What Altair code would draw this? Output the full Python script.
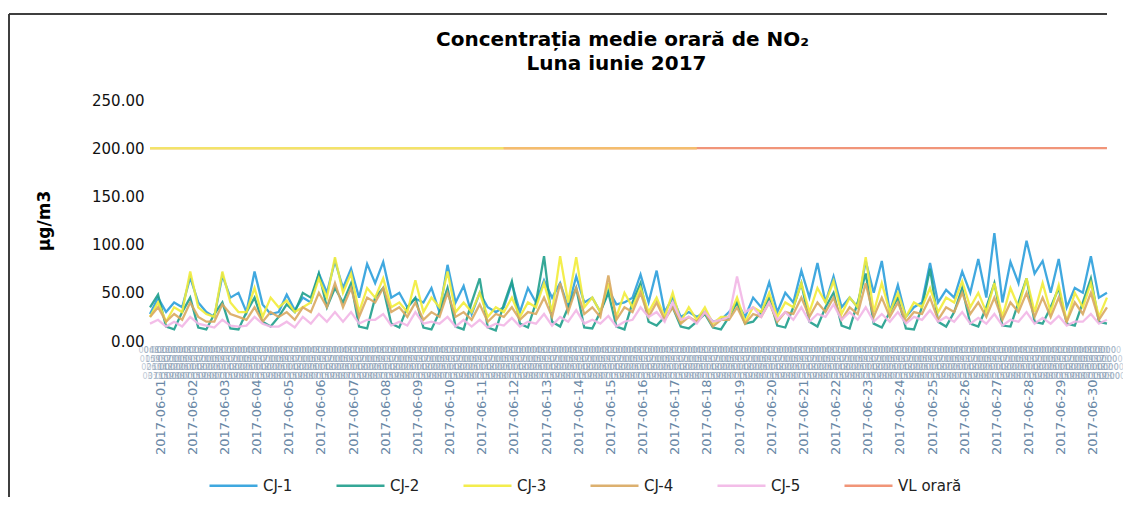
import altair as alt
import pandas as pd

# ---- data (4 readings per day: 00, 06, 12, 18 h) ----
TITLE_LINES = ["Concentrația medie orară de NO₂", "Luna iunie 2017"]
SERIES = ["CJ-1", "CJ-2", "CJ-3", "CJ-4", "CJ-5", "VL orară"]
COLORS = ["#2b9fdc", "#1f9e8c", "#f2ec3a", "#d9a860", "#f2b6e6", "#f08a6a"]
HOURS = [0, 6, 12, 18]
DAYS = list(range(1, 31))

cj1 = [28, 45, 30, 40,  35, 66, 40, 30,  25, 68, 45, 50,  30, 72, 38, 28,  30, 48, 32, 45,
       40, 70, 50, 83,  55, 75, 45, 80,  60, 82, 45, 50,  35, 44, 40, 55,  30, 79, 40, 57,
       28, 50, 35, 30,  35, 60, 30, 55,  40, 63, 45, 60,  35, 67, 40, 45,  30, 53, 38, 40,
       45, 69, 40, 73,  30, 45, 25, 30,  25, 30, 20, 22,  30, 40, 25, 45,  35, 61, 30, 50,
       40, 73, 45, 81,  40, 67, 35, 45,  35, 83, 50, 83,  30, 58, 25, 35,  40, 81, 40, 53,
       45, 72, 50, 85,  45, 112, 40, 82, 60, 104, 70, 83, 50, 85, 35, 55,  50, 88, 45, 50]
cj2 = [35, 48, 15, 12,  30, 45, 14, 12,  28, 40, 13, 12,  30, 45, 20, 15,  25, 38, 30, 50,
       45, 70, 35, 55,  40, 60, 15, 13,  45, 55, 18, 14,  35, 45, 14, 12,  30, 55, 15, 12,
       40, 65, 14, 11,  38, 62, 18, 14,  40, 88, 20, 15,  35, 55, 14, 13,  30, 50, 15, 12,
       40, 60, 20, 16,  25, 35, 15, 13,  20, 28, 14, 12,  25, 40, 18, 20,  30, 45, 16, 14,
       35, 60, 20, 15,  35, 50, 16, 13,  40, 70, 18, 14,  30, 45, 13, 12,  35, 75, 20, 15,
       30, 55, 18, 15,  35, 60, 16, 15,  40, 65, 20, 18,  35, 55, 18, 16,  40, 65, 20, 18]
cj3 = [25, 40, 20, 35,  30, 72, 35, 28,  25, 72, 40, 30,  30, 55, 25, 45,  35, 42, 30, 35,
       40, 65, 45, 87,  50, 70, 30, 55,  45, 65, 35, 40,  30, 63, 30, 45,  35, 72, 30, 40,
       30, 50, 25, 35,  30, 45, 25, 40,  35, 60, 30, 88,  40, 87, 35, 45,  30, 60, 25, 50,
       35, 55, 30, 45,  25, 50, 20, 35,  22, 35, 18, 25,  25, 45, 20, 35,  30, 50, 25, 40,
       35, 60, 30, 55,  40, 62, 28, 45,  35, 87, 30, 60,  30, 50, 25, 40,  35, 55, 30, 45,
       40, 62, 35, 50,  30, 60, 25, 55,  35, 65, 30, 60,  30, 58, 20, 50,  35, 60, 25, 45]
cj4 = [25, 35, 20, 28,  22, 40, 25, 20,  20, 38, 28, 25,  22, 35, 20, 30,  25, 30, 22, 35,
       30, 50, 35, 60,  35, 55, 25, 45,  40, 55, 30, 35,  25, 40, 22, 30,  25, 50, 25, 30,
       22, 38, 20, 28,  25, 35, 22, 30,  28, 45, 25, 60,  30, 55, 28, 35,  25, 68, 22, 35,
       30, 50, 25, 40,  22, 35, 18, 25,  20, 30, 15, 22,  22, 35, 18, 28,  25, 40, 20, 30,
       28, 45, 25, 40,  30, 45, 22, 35,  28, 60, 25, 45,  25, 40, 20, 30,  28, 45, 22, 35,
       30, 50, 28, 40,  25, 45, 22, 40,  30, 50, 25, 45,  25, 45, 20, 40,  28, 50, 22, 35]
cj5 = [18, 22, 15, 20,  15, 25, 18, 16,  14, 22, 16, 15,  16, 25, 18, 15,  15, 20, 14, 25,
       18, 28, 20, 30,  20, 30, 18, 22,  22, 28, 16, 20,  16, 30, 18, 20,  18, 25, 15, 22,
       15, 22, 14, 18,  16, 24, 15, 20,  18, 28, 16, 25,  20, 32, 18, 22,  18, 26, 15, 20,
       22, 35, 25, 30,  20, 40, 22, 25,  18, 30, 20, 22,  25, 67, 30, 35,  25, 40, 22, 30,
       22, 35, 20, 28,  25, 38, 22, 30,  22, 35, 20, 28,  20, 30, 18, 25,  22, 32, 20, 25,
       20, 30, 18, 24,  18, 28, 16, 22,  20, 30, 18, 24,  18, 26, 16, 20,  20, 28, 18, 22]
VL_VALUE = 200.0

Y_TICKS = [0, 50, 100, 150, 200, 250]
HOUR_LABELS = list(range(24))          # inner (hour) level of the category axis

# ---- tables ----
times = [f"2017-06-{d:02d}T{h:02d}:00:00" for d in DAYS for h in HOURS]
day_ticks = [f"2017-06-{d:02d}T00:00:00" for d in DAYS]
rows = []
for name, vals in zip(SERIES[:5], [cj1, cj2, cj3, cj4, cj5]):
    for t, v in zip(times, vals):
        rows.append({"t": t, "serie": name, "v": v})
for t in times:
    rows.append({"t": t, "serie": "VL orară", "v": VL_VALUE})
df = pd.DataFrame(rows)

hour_times = [f"2017-06-{d:02d}T{h:02d}:00:00" for d in DAYS for h in HOUR_LABELS]
hour_df = pd.DataFrame({
    "t": hour_times,
    "lab": [f"{h:02d}:00" for d in DAYS for h in HOUR_LABELS],
    "row": [i % 4 for i in range(len(hour_times))],
})

# scan tint of the limit line (yellowish on the left part)
vl_tint = pd.DataFrame({"t": ["2017-06-01T00:00:00", "2017-06-12T00:00:00"],
                        "t2": ["2017-06-12T00:00:00", "2017-06-18T00:00:00"],
                        "k": ["a", "b"], "v": [VL_VALUE, VL_VALUE]})
title_df = pd.DataFrame({"txt": TITLE_LINES, "k": [0, 1]})

FONT = "DejaVu Sans"
W, H = 965, 241

x_scale = alt.Scale(domain=["2017-06-01T00:00:00", "2017-07-01T00:00:00"])
y_scale = alt.Scale(domain=[0, 250], nice=False)

lines = alt.Chart(df).mark_line(strokeWidth=2.3, opacity=0.9).encode(
    x=alt.X("t:T", scale=x_scale, title=None,
            axis=alt.Axis(format="%Y-%m-%d", labelAngle=270, labelOverlap=False,
                          values=day_ticks,
                          labelFont=FONT, labelFontSize=13, labelColor="#6a88a6",
                          labelPadding=38, labelOffset=10, ticks=False, domain=False,
                          grid=False)),
    y=alt.Y("v:Q", scale=y_scale, title="µg/m3",
            axis=alt.Axis(values=Y_TICKS, format=".2f", labelFont=FONT, labelFontSize=15,
                          labelColor="#111", labelPadding=6, ticks=False, domain=False,
                          grid=False, titleFont=FONT, titleFontSize=17,
                          titleFontWeight="bold", titleColor="#000", titlePadding=38)),
    color=alt.Color("serie:N",
                    scale=alt.Scale(domain=SERIES, range=COLORS),
                    legend=alt.Legend(title=None, orient="none", direction="horizontal",
                                      legendX=58, legendY=360, symbolType="stroke",
                                      symbolSize=2304, symbolStrokeWidth=2.5,
                                      labelFont=FONT, labelFontSize=15, labelColor="#222",
                                      columnPadding=38, labelOffset=4)),
)

tint = alt.Chart(vl_tint).mark_rule(strokeWidth=2.5).encode(
    x=alt.X("t:T", scale=x_scale, axis=None), x2="t2:T",
    y=alt.Y("v:Q", scale=y_scale, axis=None),
    color=alt.Color("k:N", scale=alt.Scale(domain=["a", "b"], range=["#f3e36a", "#f4bd6e"]),
                    legend=None),
)

hour_layers = []
for r in range(4):
    hour_layers.append(
        alt.Chart(hour_df).transform_filter(alt.datum.row == r)
        .mark_text(fontSize=8, font=FONT, color="#7d94ae", opacity=0.5)
        .encode(x=alt.X("t:T", scale=x_scale, axis=None),
                y=alt.value(251 + 8.7 * r), text="lab:N")
    )

title_layers = []
for k, (yy, dx) in enumerate([(-54, -10), (-30, -16)]):
    title_layers.append(
        alt.Chart(title_df).transform_filter(alt.datum.k == k)
        .mark_text(font=FONT, fontSize=20, fontWeight="bold", color="#000",
                   baseline="alphabetic")
        .encode(x=alt.value(W / 2 + dx), y=alt.value(yy), text="txt:N")
    )

top_border = alt.Chart(title_df).mark_rule(color="#333", strokeWidth=1.5).encode(
    x=alt.value(-141), x2=alt.value(957), y=alt.value(-86))
left_border = alt.Chart(title_df).mark_rule(color="#333", strokeWidth=1.5).encode(
    x=alt.value(-141), y=alt.value(-86), y2=alt.value(400))

chart = alt.layer(lines, tint, *hour_layers, *title_layers, top_border, left_border).properties(
    width=W, height=H,
    autosize=alt.AutoSizeParams(type="none"),
    padding={"left": 142, "top": 92, "right": 8, "bottom": 156},
).resolve_scale(color="independent").resolve_axis(
    x="independent", y="independent"
).configure(background="white").configure_view(stroke=None)

chart.save("out.html", embed_options={"renderer": "svg", "actions": False})
